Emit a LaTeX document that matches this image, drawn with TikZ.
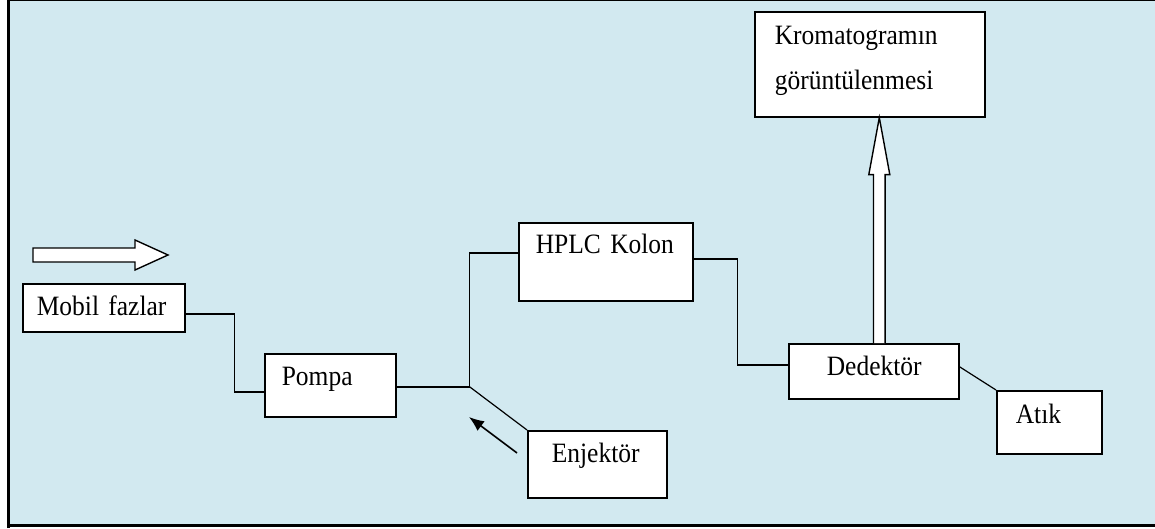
\documentclass[tikz,border=0pt]{standalone}
\usepackage{fontspec}
\setmainfont{Liberation Serif}[FakeStretch=0.91,WordSpace=0.8]
\usepackage{xcolor}
\usepackage{tikz}
\usetikzlibrary{arrows.meta}
\usetikzlibrary{calc}
\definecolor{bgblue}{RGB}{210,233,240}
\tikzset{
	box/.style n args={4}{draw,fill=white,line width=1.6pt,align=left,
		font=\fontsize{28}{45}\selectfont,inner ysep=0pt,
		execute at begin node={\hyphenpenalty=10000},
		text width=#1,inner xsep=#2,text height=#3,text depth=#4,anchor=north west},
	wire/.style={line width=1.6pt},
	thinwire/.style={line width=1.2pt},
	pointer/.style={line width=1.6pt,-{Latex[length=15pt,width=12pt]}},
	hollow/.style={draw,fill=white,line width=1.4pt,line join=miter}
}

\begin{document}
\begin{tikzpicture}[x=1pt,y=1pt]
	\useasboundingbox (0,0) rectangle (1155,528);
	% frame
	\fill[bgblue] (9.5,3.5) rectangle (1155,527.5);
	\draw[line width=2.5pt] (8.3,0) -- (8.3,528);
	\draw[line width=1pt] (8,527.5) -- (1155,527.5);
	\draw[line width=2.5pt] (8,2.5) -- (1155,2.5);
	% boxes
	\node[box={134pt}{14pt}{32pt}{16pt}] (mobil) at (22,245) {Mobil~fazlar};
	\node[box={97pt}{17pt}{32pt}{31pt}] (pompa) at (264,175) {Pompa};
	\node[box={140pt}{17pt}{31pt}{47pt}] (hplc) at (518,306) {HPLC~Kolon};
	\node[box={91pt}{24pt}{32pt}{35pt}] (enj) at (527,98) {Enjektör};
	\node[box={190pt}{20pt}{33pt}{72pt}] (krom) at (754,517) {Kromatogramın\\görüntülenmesi};
	\node[box={94pt}{38pt}{32pt}{23pt}] (ded) at (788,185) {Dedektör};
	\node[box={67pt}{19pt}{33pt}{30pt}] (atik) at (996,138) {Atık};
	% flow arrow
	\draw[hollow] (33,280) -- (135,280) -- (135,288) -- (168,273) -- (135,258)
		-- (135,266) -- (33,266) -- cycle;
	% lines
	\coordinate (jn) at ([xshift=73pt,yshift=-1.5pt]pompa.east);
	\draw[wire] ([yshift=-6pt]mobil.east) -- ++(49,0) |- ([yshift=-6.5pt]pompa.west);
	\draw[wire] ([yshift=-1.5pt]pompa.east) -- (jn) |- ([yshift=9pt]hplc.west);
	\draw[thinwire] (jn) -- (enj.north west);
	\coordinate (a1) at (517,75);
	\coordinate (a2) at (469,111);
	\draw[pointer] (a1) -- (a2);
	\draw[wire] ([yshift=3pt]hplc.east) -- ++(44,0) |- ([yshift=6.5pt]ded.west);
	\draw[thinwire] ([yshift=4.5pt]ded.east) -- (atik.north west);
	% detector to display
	\coordinate (base) at ([xshift=5.5pt]ded.north);
	\coordinate (tip) at ([xshift=9.5pt]krom.south);
	\draw[hollow] ($(base)+(-5.8,0)$) -- ($(tip)+(-5.8,-57)$) -- ($(tip)+(-10.5,-57)$)
		-- (tip) -- ($(tip)+(10.5,-57)$) -- ($(tip)+(5.8,-57)$) -- ($(base)+(5.8,0)$);
\end{tikzpicture}
\end{document}
